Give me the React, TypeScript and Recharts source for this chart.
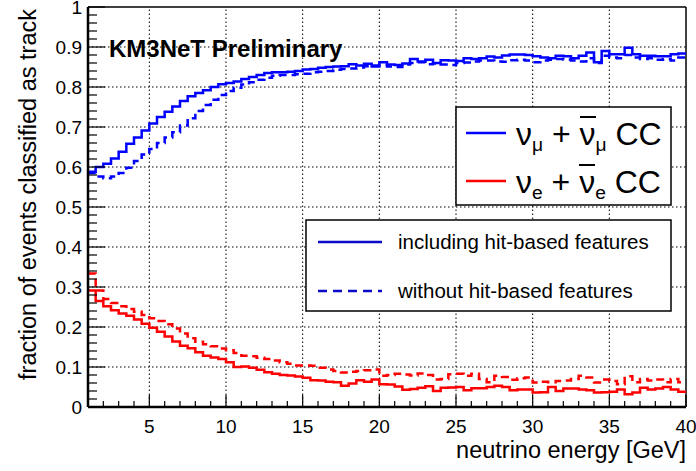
import { LineChart, Line, XAxis, YAxis, ReferenceLine } from "recharts";

// histogram binning: 0.5 GeV bins from 1 to 40 GeV
const BIN_START = 1;
const BIN_WIDTH = 0.5;

// fraction classified as track, per bin
const numuWith = [
  0.588, 0.600, 0.608, 0.621, 0.638, 0.658, 0.674, 0.691, 0.709, 0.725,
  0.738, 0.751, 0.765, 0.777, 0.785, 0.792, 0.800, 0.807, 0.810, 0.814,
  0.820, 0.825, 0.830, 0.835, 0.837, 0.837, 0.838, 0.840, 0.844, 0.845,
  0.848, 0.850, 0.851, 0.852, 0.857, 0.854, 0.858, 0.851, 0.862, 0.856,
  0.855, 0.859, 0.870, 0.864, 0.868, 0.860, 0.867, 0.866, 0.865, 0.872,
  0.870, 0.872, 0.876, 0.874, 0.879, 0.881, 0.881, 0.880, 0.877, 0.874,
  0.872, 0.878, 0.877, 0.872, 0.878, 0.886, 0.862, 0.890, 0.882, 0.882,
  0.898, 0.882, 0.878, 0.878, 0.877, 0.877, 0.882, 0.884,
];

const numuWithout = [
  0.585, 0.576, 0.572, 0.576, 0.585, 0.598, 0.615, 0.631, 0.645, 0.660,
  0.674, 0.687, 0.704, 0.722, 0.740, 0.755, 0.768, 0.780, 0.790, 0.798,
  0.806, 0.812, 0.818, 0.823, 0.828, 0.830, 0.830, 0.832, 0.833, 0.837,
  0.838, 0.840, 0.843, 0.845, 0.846, 0.849, 0.852, 0.854, 0.855, 0.851,
  0.850, 0.856, 0.860, 0.862, 0.857, 0.859, 0.856, 0.855, 0.860, 0.861,
  0.864, 0.866, 0.866, 0.864, 0.863, 0.867, 0.868, 0.866, 0.862, 0.866,
  0.868, 0.870, 0.869, 0.866, 0.864, 0.872, 0.860, 0.878, 0.874, 0.872,
  0.880, 0.874, 0.870, 0.872, 0.868, 0.870, 0.866, 0.874,
];

const nueWith = [
  0.291, 0.265, 0.252, 0.242, 0.234, 0.228, 0.219, 0.208, 0.198, 0.188,
  0.176, 0.164, 0.153, 0.147, 0.137, 0.128, 0.124, 0.120, 0.112, 0.100,
  0.101, 0.098, 0.093, 0.087, 0.083, 0.080, 0.079, 0.076, 0.073, 0.067,
  0.066, 0.063, 0.062, 0.053, 0.059, 0.067, 0.063, 0.069, 0.057, 0.056,
  0.051, 0.043, 0.045, 0.048, 0.052, 0.040, 0.048, 0.049, 0.050, 0.042,
  0.047, 0.047, 0.050, 0.053, 0.050, 0.042, 0.044, 0.044, 0.036, 0.037,
  0.050, 0.040, 0.046, 0.046, 0.044, 0.042, 0.036, 0.037, 0.038, 0.044,
  0.032, 0.036, 0.048, 0.044, 0.046, 0.050, 0.044, 0.038,
];

const nueWithout = [
  0.334, 0.291, 0.270, 0.260, 0.252, 0.245, 0.238, 0.230, 0.222, 0.215,
  0.207, 0.196, 0.184, 0.172, 0.163, 0.157, 0.152, 0.146, 0.142, 0.135,
  0.128, 0.127, 0.123, 0.120, 0.116, 0.112, 0.108, 0.104, 0.104, 0.103,
  0.098, 0.094, 0.090, 0.086, 0.088, 0.090, 0.092, 0.094, 0.078, 0.080,
  0.083, 0.081, 0.079, 0.084, 0.080, 0.069, 0.070, 0.082, 0.083, 0.078,
  0.083, 0.070, 0.062, 0.078, 0.075, 0.068, 0.072, 0.074, 0.061, 0.063,
  0.062, 0.065, 0.066, 0.070, 0.078, 0.074, 0.061, 0.069, 0.065, 0.057,
  0.077, 0.062, 0.070, 0.066, 0.069, 0.062, 0.070, 0.062,
];

const X_LABELS = [5, 10, 15, 20, 25, 30, 35, 40];
const Y_LABELS = [0, 0.1, 0.2, 0.3, 0.4, 0.5, 0.6, 0.7, 0.8, 0.9, 1];
const X_GRID = [5, 10, 15, 20, 25, 30, 35];
const Y_GRID = [0.1, 0.2, 0.3, 0.4, 0.5, 0.6, 0.7, 0.8, 0.9];

// minor ticks: every 1 GeV, every 0.02
const xTicks = Array.from({ length: 40 }, (_, i) => i + 1);
const yTicks = Array.from({ length: 51 }, (_, i) => Math.round(i * 2) / 100);

const BLUE = "#0000ff";
const RED = "#ff0000";
const FONT = '"Liberation Sans", Arial, sans-serif';

type Row = { e: number; numuWith: number; numuWithout: number; nueWith: number; nueWithout: number };

const data: Row[] = numuWith.map((_, i) => ({
  e: BIN_START + i * BIN_WIDTH,
  numuWith: numuWith[i],
  numuWithout: numuWithout[i],
  nueWith: nueWith[i],
  nueWithout: nueWithout[i],
}));
// closing edge so the last bin is drawn to 40
const last = numuWith.length - 1;
data.push({
  e: BIN_START + numuWith.length * BIN_WIDTH,
  numuWith: numuWith[last],
  numuWithout: numuWithout[last],
  nueWith: nueWith[last],
  nueWithout: nueWithout[last],
});

function XTick(props: any) {
  const { x, y, payload } = props;
  const v = payload.value as number;
  const major = X_LABELS.includes(v);
  return (
    <g>
      <line x1={x} x2={x} y1={y} y2={y - (major ? 12 : 6)} stroke="#000" strokeWidth={1.2} />
      {major && (
        <text x={x} y={y + 26} textAnchor="middle" fontSize={19} fill="#000" fontFamily={FONT}>
          {v}
        </text>
      )}
    </g>
  );
}

function YTick(props: any) {
  const { x, y, payload } = props;
  const v = payload.value as number;
  const major = Y_LABELS.some((l) => Math.abs(l - v) < 1e-6);
  return (
    <g>
      <line x1={x} x2={x + (major ? 17 : 9)} y1={y} y2={y} stroke="#000" strokeWidth={1.2} />
      {major && (
        <text x={x - 6} y={y} dy="0.35em" textAnchor="end" fontSize={19} fill="#000" fontFamily={FONT}>
          {String(v)}
        </text>
      )}
    </g>
  );
}

const sub: React.CSSProperties = { fontSize: "0.6em", position: "relative", top: "0.3em" };
// antineutrino bar, sitting at about cap height
const bar: React.CSSProperties = { display: "inline-block", lineHeight: 1, borderTop: "2px solid #000" };

export default function App() {
  return (
    <div
      style={{
        position: "absolute",
        left: 0,
        top: 0,
        width: 696,
        height: 471,
        background: "#fff",
        fontFamily: FONT,
      }}
    >
      <LineChart width={696} height={471} data={data} margin={{ top: 7, right: 10, bottom: 34, left: 28 }}>
        <XAxis
          dataKey="e"
          type="number"
          domain={[1, 40]}
          ticks={xTicks}
          interval={0}
          allowDataOverflow
          tickSize={0}
          tickMargin={0}
          tickLine={false}
          tick={XTick}
          axisLine={{ stroke: "#000", strokeWidth: 2.5 }}
          height={30}
        />
        <YAxis
          type="number"
          domain={[0, 1]}
          ticks={yTicks}
          interval={0}
          allowDataOverflow
          tickSize={0}
          tickMargin={0}
          tickLine={false}
          tick={YTick}
          axisLine={{ stroke: "#000", strokeWidth: 2.5 }}
          width={60}
        />
        {X_GRID.map((g) => (
          <ReferenceLine key={`gx${g}`} x={g} stroke="#000" strokeWidth={1} strokeDasharray="1.5 2.5" />
        ))}
        {Y_GRID.map((g) => (
          <ReferenceLine key={`gy${g}`} y={g} stroke="#000" strokeWidth={1} strokeDasharray="1.5 2.5" />
        ))}
        <ReferenceLine x={40} stroke="#000" strokeWidth={1.5} />
        <ReferenceLine y={1} stroke="#000" strokeWidth={1.5} />

        <Line type="stepAfter" dataKey="numuWithout" stroke={BLUE} strokeWidth={2.5} strokeDasharray="8 5" dot={false} isAnimationActive={false} />
        <Line type="stepAfter" dataKey="numuWith" stroke={BLUE} strokeWidth={2.5} dot={false} isAnimationActive={false} />
        <Line type="stepAfter" dataKey="nueWithout" stroke={RED} strokeWidth={2.5} strokeDasharray="8 5" dot={false} isAnimationActive={false} />
        <Line type="stepAfter" dataKey="nueWith" stroke={RED} strokeWidth={2.5} dot={false} isAnimationActive={false} />
      </LineChart>

      <svg width={696} height={471} style={{ position: "absolute", left: 0, top: 0, pointerEvents: "none" }}>
        <text transform="rotate(-90)" x={-9} y={36} textAnchor="end" fontSize={23.5} fontFamily={FONT} fill="#000">
          fraction of events classified as track
        </text>
        <text x={686} y={458} textAnchor="end" fontSize={23.5} fontFamily={FONT} fill="#000">
          neutrino energy [GeV]
        </text>
        <text x={109} y={57} fontSize={24} fontWeight="bold" fontFamily={FONT} fill="#000">
          KM3NeT Preliminary
        </text>

        {/* flavour legend */}
        <rect x={456} y={107} width={215} height={98} fill="#fff" stroke="#000" strokeWidth={1.5} />
        <line x1={466} x2={506} y1={133} y2={133} stroke={BLUE} strokeWidth={2.5} />
        <line x1={466} x2={506} y1={181} y2={181} stroke={RED} strokeWidth={2.5} />

        {/* feature-set legend */}
        <rect x={306} y={220} width={365} height={91} fill="#fff" stroke="#000" strokeWidth={1.5} />
        <line x1={318} x2={382} y1={242} y2={242} stroke="#0a0ac8" strokeWidth={2.5} />
        <line x1={318} x2={382} y1={291} y2={291} stroke="#0a0ac8" strokeWidth={2.5} strokeDasharray="9 6" />
      </svg>

      <div style={{ position: "absolute", left: 516, top: 133, transform: "translateY(-50%)", fontSize: 32, lineHeight: 1, whiteSpace: "nowrap" }}>
        ν<span style={sub}>μ</span> + <span style={bar}>ν</span><span style={sub}>μ</span> CC
      </div>
      <div style={{ position: "absolute", left: 516, top: 181, transform: "translateY(-50%)", fontSize: 32, lineHeight: 1, whiteSpace: "nowrap" }}>
        ν<span style={sub}>e</span> + <span style={bar}>ν</span><span style={sub}>e</span> CC
      </div>
      <div style={{ position: "absolute", left: 398, top: 242, transform: "translateY(-50%)", fontSize: 20.5, lineHeight: 1, whiteSpace: "nowrap" }}>
        including hit-based features
      </div>
      <div style={{ position: "absolute", left: 398, top: 291, transform: "translateY(-50%)", fontSize: 20.5, lineHeight: 1, whiteSpace: "nowrap" }}>
        without hit-based features
      </div>
    </div>
  );
}
